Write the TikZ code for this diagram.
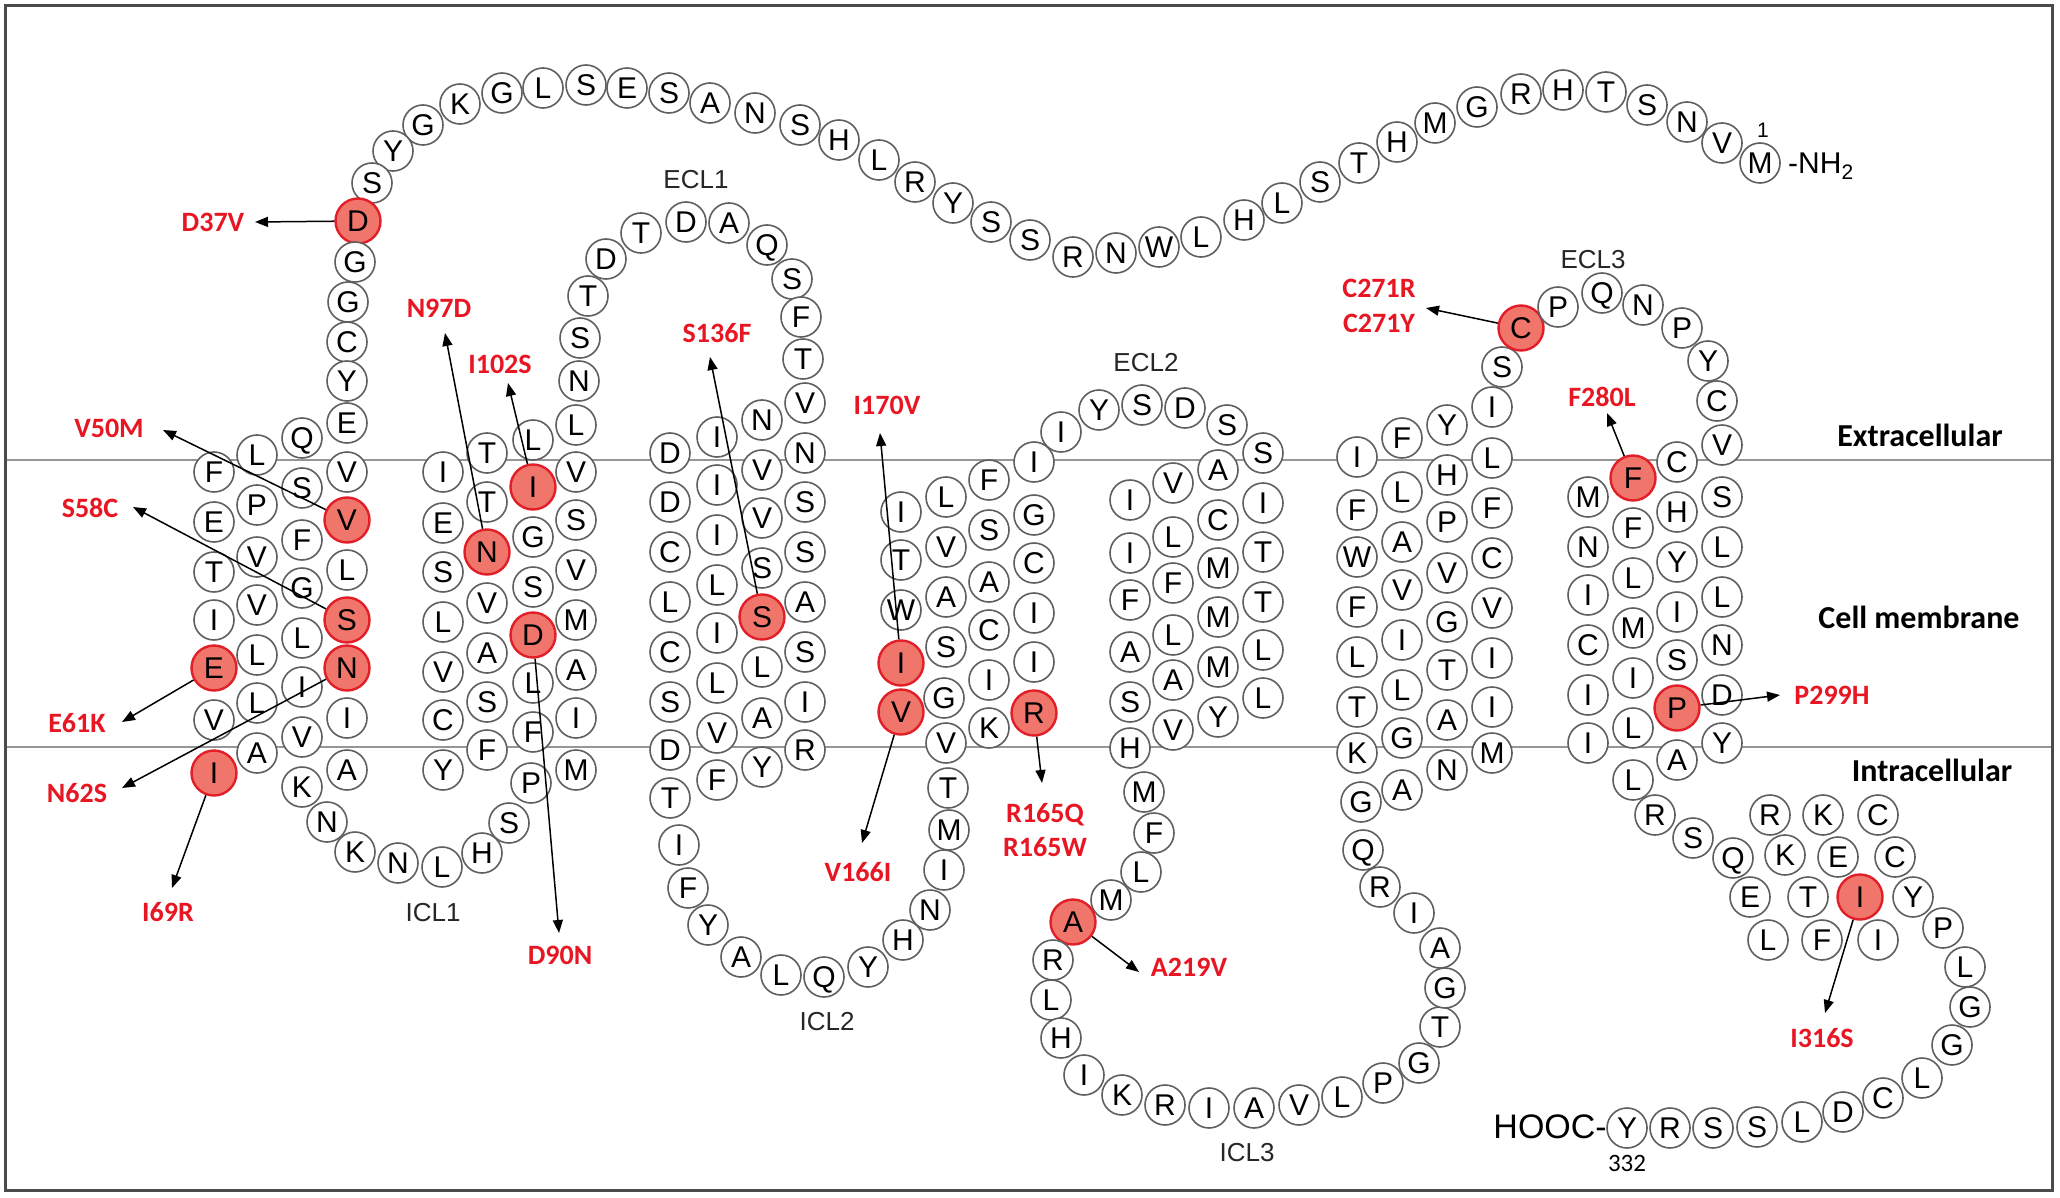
\documentclass[tikz,border=0pt]{standalone}
\usepackage{fontspec}
\setmainfont{Liberation Sans}
\newfontfamily\carl{Carlito}
\usetikzlibrary{arrows.meta}
\definecolor{circ}{RGB}{95,95,95}
\definecolor{mutfill}{RGB}{240,118,108}
\definecolor{mutdraw}{RGB}{226,30,40}
\definecolor{mutred}{RGB}{232,22,34}
\definecolor{memb}{RGB}{150,150,150}
\definecolor{framegray}{RGB}{75,75,75}
\newcommand{\Res}[4]{\node[res] (r#1) at (#2,#3) {#4};}
\newcommand{\MRes}[4]{\node[resmut] (r#1) at (#2,#3) {#4};}
\begin{document}
\begin{tikzpicture}[x=1pt,y=-1pt,
 res/.style={circle,draw=circ,line width=1.6pt,fill=white,minimum size=40pt,inner sep=0pt,
   font=\fontsize{30}{30}\selectfont,text height=21.5pt,text depth=0pt},
 resmut/.style={res,fill=mutfill,draw=mutdraw,line width=2.4pt,minimum size=45pt},
 mutlab/.style={font=\carl\bfseries\fontsize{28}{30}\selectfont,text=mutred,inner sep=0pt},
 mutarrow/.style={line width=1.5pt,-{Triangle[length=13pt,width=10pt]}},
 looplab/.style={font=\fontsize{26}{26}\selectfont,text=black!85,inner sep=0pt},
 regionlab/.style={font=\carl\bfseries\fontsize{32}{32}\selectfont,inner sep=0pt}]
\useasboundingbox (0,0) rectangle (2060,1198);
\fill[white] (0,0) rectangle (2060,1198);
% membrane lines and frame
\draw[memb,line width=2.5pt] (5,460) -- (2052,460);
\draw[memb,line width=2.5pt] (5,747) -- (2052,747);
\draw[framegray,line width=3pt] (5,6) rectangle (2052,1190);
% N-terminus
\Res{1}{1760}{163}{M}
\Res{2}{1722}{143}{V}
\Res{3}{1687}{122}{N}
\Res{4}{1647}{105}{S}
\Res{5}{1606}{92}{T}
\Res{6}{1563}{90}{H}
\Res{7}{1521}{94}{R}
\Res{8}{1477}{107}{G}
\Res{9}{1435}{123}{M}
\Res{10}{1397}{142}{H}
\Res{11}{1359}{163}{T}
\Res{12}{1320}{182}{S}
\Res{13}{1282}{203}{L}
\Res{14}{1244}{220}{H}
\Res{15}{1201}{237}{L}
\Res{16}{1159}{247}{W}
\Res{17}{1116}{253}{N}
\Res{18}{1073}{257}{R}
\Res{19}{1030}{240}{S}
\Res{20}{991}{222}{S}
\Res{21}{953}{203}{Y}
\Res{22}{915}{182}{R}
\Res{23}{879}{160}{L}
\Res{24}{839}{140}{H}
\Res{25}{800}{125}{S}
\Res{26}{755}{113}{N}
\Res{27}{710}{103}{A}
\Res{28}{669}{93}{S}
\Res{29}{627}{88}{E}
\Res{30}{586}{85}{S}
\Res{31}{543}{88}{L}
\Res{32}{502}{93}{G}
\Res{33}{460}{104}{K}
\Res{34}{423}{125}{G}
\Res{35}{393}{151}{Y}
\Res{36}{372}{183}{S}
\MRes{37}{358}{221}{D}
% TM1
\Res{38}{355}{262}{G}
\Res{39}{348}{302}{G}
\Res{40}{347}{342}{C}
\Res{41}{347}{381}{Y}
\Res{42}{347}{423}{E}
\Res{43}{302}{438}{Q}
\Res{44}{257}{455}{L}
\Res{45}{214}{472}{F}
\Res{46}{347}{472}{V}
\Res{47}{302}{488}{S}
\Res{48}{257}{505}{P}
\Res{49}{214}{522}{E}
\MRes{50}{347}{520}{V}
\Res{51}{302}{540}{F}
\Res{52}{257}{557}{V}
\Res{53}{214}{572}{T}
\Res{54}{347}{570}{L}
\Res{55}{302}{588}{G}
\Res{56}{257}{605}{V}
\Res{57}{214}{620}{I}
\MRes{58}{347}{620}{S}
\Res{59}{302}{638}{L}
\Res{60}{257}{655}{L}
\MRes{61}{214}{668}{E}
\MRes{62}{347}{668}{N}
\Res{63}{302}{687}{I}
\Res{64}{257}{703}{L}
\Res{65}{214}{720}{V}
\Res{66}{347}{718}{I}
\Res{67}{302}{737}{V}
\Res{68}{257}{753}{A}
\MRes{69}{214}{773}{I}
\Res{70}{347}{770}{A}
\Res{71}{302}{787}{K}
% ICL1
\Res{72}{327}{822}{N}
\Res{73}{355}{852}{K}
\Res{74}{398}{863}{N}
\Res{75}{442}{867}{L}
\Res{76}{482}{853}{H}
\Res{77}{509}{823}{S}
\Res{78}{531}{783}{P}
% TM2
\Res{79}{576}{770}{M}
\Res{80}{443}{770}{Y}
\Res{81}{487}{750}{F}
\Res{82}{533}{732}{F}
\Res{83}{576}{718}{I}
\Res{84}{443}{720}{C}
\Res{85}{487}{702}{S}
\Res{86}{533}{683}{L}
\Res{87}{576}{670}{A}
\Res{88}{443}{672}{V}
\Res{89}{487}{653}{A}
\MRes{90}{533}{635}{D}
\Res{91}{576}{620}{M}
\Res{92}{443}{622}{L}
\Res{93}{487}{603}{V}
\Res{94}{533}{587}{S}
\Res{95}{576}{570}{V}
\Res{96}{443}{572}{S}
\MRes{97}{487}{552}{N}
\Res{98}{533}{537}{G}
\Res{99}{576}{520}{S}
\Res{100}{443}{523}{E}
\Res{101}{487}{502}{T}
\MRes{102}{533}{487}{I}
\Res{103}{576}{472}{V}
\Res{104}{443}{472}{I}
\Res{105}{487}{453}{T}
\Res{106}{533}{440}{L}
\Res{107}{576}{425}{L}
% ECL1
\Res{108}{579}{381}{N}
\Res{109}{580}{338}{S}
\Res{110}{588}{296}{T}
\Res{111}{606}{259}{D}
\Res{112}{641}{233}{T}
\Res{113}{686}{222}{D}
\Res{114}{729}{223}{A}
\Res{115}{767}{245}{Q}
\Res{116}{792}{279}{S}
\Res{117}{801}{317}{F}
\Res{118}{803}{359}{T}
% TM3
\Res{119}{805}{403}{V}
\Res{120}{762}{420}{N}
\Res{121}{717}{437}{I}
\Res{122}{670}{453}{D}
\Res{123}{805}{453}{N}
\Res{124}{762}{470}{V}
\Res{125}{717}{485}{I}
\Res{126}{670}{502}{D}
\Res{127}{805}{502}{S}
\Res{128}{762}{518}{V}
\Res{129}{717}{535}{I}
\Res{130}{670}{552}{C}
\Res{131}{805}{552}{S}
\Res{132}{762}{568}{S}
\Res{133}{717}{585}{L}
\Res{134}{670}{602}{L}
\Res{135}{805}{602}{A}
\MRes{136}{762}{617}{S}
\Res{137}{717}{633}{I}
\Res{138}{670}{652}{C}
\Res{139}{805}{652}{S}
\Res{140}{762}{667}{L}
\Res{141}{717}{683}{L}
\Res{142}{670}{702}{S}
\Res{143}{805}{702}{I}
\Res{144}{762}{718}{A}
\Res{145}{717}{733}{V}
\Res{146}{670}{750}{D}
\Res{147}{805}{750}{R}
\Res{148}{762}{767}{Y}
\Res{149}{717}{780}{F}
\Res{150}{670}{798}{T}
% ICL2
\Res{151}{679}{845}{I}
\Res{152}{688}{888}{F}
\Res{153}{708}{925}{Y}
\Res{154}{741}{957}{A}
\Res{155}{781}{975}{L}
\Res{156}{824}{977}{Q}
\Res{157}{868}{967}{Y}
\Res{158}{903}{940}{H}
\Res{159}{930}{910}{N}
\Res{160}{944}{870}{I}
\Res{161}{949}{830}{M}
\Res{162}{948}{788}{T}
% TM4
\Res{163}{946}{743}{V}
\Res{164}{989}{728}{K}
\MRes{165}{1034}{713}{R}
\MRes{166}{901}{712}{V}
\Res{167}{944}{698}{G}
\Res{168}{989}{680}{I}
\Res{169}{1034}{662}{I}
\MRes{170}{901}{663}{I}
\Res{171}{946}{647}{S}
\Res{172}{989}{630}{C}
\Res{173}{1034}{613}{I}
\Res{174}{901}{610}{W}
\Res{175}{946}{597}{A}
\Res{176}{989}{582}{A}
\Res{177}{1034}{563}{C}
\Res{178}{901}{560}{T}
\Res{179}{946}{547}{V}
\Res{180}{989}{530}{S}
\Res{181}{1034}{515}{G}
\Res{182}{901}{512}{I}
\Res{183}{946}{497}{L}
\Res{184}{989}{480}{F}
\Res{185}{1034}{462}{I}
% ECL2
\Res{186}{1061}{432}{I}
\Res{187}{1099}{410}{Y}
\Res{188}{1142}{405}{S}
\Res{189}{1185}{408}{D}
\Res{190}{1227}{425}{S}
% TM5
\Res{191}{1263}{453}{S}
\Res{192}{1218}{470}{A}
\Res{193}{1173}{483}{V}
\Res{194}{1130}{500}{I}
\Res{195}{1263}{503}{I}
\Res{196}{1218}{520}{C}
\Res{197}{1173}{537}{L}
\Res{198}{1130}{553}{I}
\Res{199}{1263}{552}{T}
\Res{200}{1218}{568}{M}
\Res{201}{1173}{583}{F}
\Res{202}{1130}{600}{F}
\Res{203}{1263}{602}{T}
\Res{204}{1218}{617}{M}
\Res{205}{1173}{635}{L}
\Res{206}{1130}{652}{A}
\Res{207}{1263}{650}{L}
\Res{208}{1218}{667}{M}
\Res{209}{1173}{680}{A}
\Res{210}{1130}{702}{S}
\Res{211}{1263}{698}{L}
\Res{212}{1218}{717}{Y}
\Res{213}{1173}{730}{V}
\Res{214}{1130}{748}{H}
% ICL3
\Res{215}{1144}{792}{M}
\Res{216}{1154}{833}{F}
\Res{217}{1141}{872}{L}
\Res{218}{1111}{900}{M}
\MRes{219}{1073}{922}{A}
\Res{220}{1053}{960}{R}
\Res{221}{1051}{1000}{L}
\Res{222}{1061}{1038}{H}
\Res{223}{1084}{1075}{I}
\Res{224}{1122}{1095}{K}
\Res{225}{1165}{1105}{R}
\Res{226}{1209}{1108}{I}
\Res{227}{1254}{1108}{A}
\Res{228}{1299}{1105}{V}
\Res{229}{1342}{1097}{L}
\Res{230}{1383}{1083}{P}
\Res{231}{1419}{1063}{G}
\Res{232}{1440}{1027}{T}
\Res{233}{1445}{988}{G}
\Res{234}{1440}{948}{A}
\Res{235}{1414}{913}{I}
\Res{236}{1380}{887}{R}
\Res{237}{1363}{850}{Q}
\Res{238}{1361}{802}{G}
% TM6
\Res{239}{1402}{790}{A}
\Res{240}{1447}{770}{N}
\Res{241}{1492}{753}{M}
\Res{242}{1357}{753}{K}
\Res{243}{1402}{738}{G}
\Res{244}{1447}{720}{A}
\Res{245}{1492}{707}{I}
\Res{246}{1357}{707}{T}
\Res{247}{1402}{690}{L}
\Res{248}{1447}{670}{T}
\Res{249}{1492}{658}{I}
\Res{250}{1357}{657}{L}
\Res{251}{1402}{640}{I}
\Res{252}{1447}{622}{G}
\Res{253}{1492}{608}{V}
\Res{254}{1357}{607}{F}
\Res{255}{1402}{590}{V}
\Res{256}{1447}{573}{V}
\Res{257}{1492}{558}{C}
\Res{258}{1357}{557}{W}
\Res{259}{1402}{542}{A}
\Res{260}{1447}{522}{P}
\Res{261}{1492}{508}{F}
\Res{262}{1357}{510}{F}
\Res{263}{1402}{492}{L}
\Res{264}{1447}{475}{H}
\Res{265}{1492}{458}{L}
\Res{266}{1357}{457}{I}
\Res{267}{1402}{438}{F}
\Res{268}{1447}{425}{Y}
\Res{269}{1492}{407}{I}
% ECL3
\Res{270}{1502}{367}{S}
\MRes{271}{1521}{328}{C}
\Res{272}{1558}{307}{P}
\Res{273}{1602}{293}{Q}
\Res{274}{1643}{305}{N}
\Res{275}{1682}{328}{P}
\Res{276}{1708}{361}{Y}
\Res{277}{1717}{401}{C}
% TM7
\Res{278}{1722}{445}{V}
\Res{279}{1677}{462}{C}
\MRes{280}{1633}{478}{F}
\Res{281}{1588}{497}{M}
\Res{282}{1722}{497}{S}
\Res{283}{1677}{512}{H}
\Res{284}{1633}{528}{F}
\Res{285}{1588}{547}{N}
\Res{286}{1722}{547}{L}
\Res{287}{1677}{562}{Y}
\Res{288}{1633}{578}{L}
\Res{289}{1588}{595}{I}
\Res{290}{1722}{597}{L}
\Res{291}{1677}{612}{I}
\Res{292}{1633}{628}{M}
\Res{293}{1588}{645}{C}
\Res{294}{1722}{645}{N}
\Res{295}{1677}{660}{S}
\Res{296}{1633}{678}{I}
\Res{297}{1588}{695}{I}
\Res{298}{1722}{695}{D}
\MRes{299}{1677}{708}{P}
\Res{300}{1633}{728}{L}
\Res{301}{1588}{743}{I}
\Res{302}{1722}{743}{Y}
\Res{303}{1677}{760}{A}
\Res{304}{1633}{780}{L}
% C-terminus
\Res{305}{1655}{815}{R}
\Res{306}{1693}{838}{S}
\Res{307}{1733}{858}{Q}
\Res{308}{1750}{897}{E}
\Res{309}{1768}{940}{L}
\Res{310}{1770}{815}{R}
\Res{311}{1785}{855}{K}
\Res{312}{1808}{897}{T}
\Res{313}{1822}{940}{F}
\Res{314}{1823}{815}{K}
\Res{315}{1838}{857}{E}
\MRes{316}{1860}{897}{I}
\Res{317}{1878}{940}{I}
\Res{318}{1878}{815}{C}
\Res{319}{1895}{857}{C}
\Res{320}{1913}{897}{Y}
\Res{321}{1943}{928}{P}
\Res{322}{1965}{967}{L}
\Res{323}{1970}{1007}{G}
\Res{324}{1952}{1045}{G}
\Res{325}{1922}{1078}{L}
\Res{326}{1883}{1098}{C}
\Res{327}{1843}{1112}{D}
\Res{328}{1802}{1122}{L}
\Res{329}{1757}{1127}{S}
\Res{330}{1713}{1128}{S}
\Res{331}{1670}{1128}{R}
\Res{332}{1627}{1128}{Y}
% termini labels
\node[font=\fontsize{21}{21}\selectfont,inner sep=0pt] (n1) at (1763,130) {1};
\node[font=\fontsize{30}{30}\selectfont,anchor=west,inner sep=0pt] (nh2) at (1788,166) {-NH\textsubscript{2}};
\node[font=\fontsize{34}{34}\selectfont,anchor=east,inner sep=0pt] (hooc) at (1607,1127) {HOOC-};
\node[font=\carl\fontsize{25}{25}\selectfont,inner sep=0pt] (n332) at (1627,1163) {332};
% loop labels
\node[looplab] (ecl1) at (696,180) {ECL1};
\node[looplab] (ecl2) at (1146,363) {ECL2};
\node[looplab] (ecl3) at (1593,260) {ECL3};
\node[looplab] (icl1) at (433,913) {ICL1};
\node[looplab] (icl2) at (827,1022) {ICL2};
\node[looplab] (icl3) at (1247,1153) {ICL3};
% region labels
\node[regionlab] (extra) at (1920,435) {Extracellular};
\node[regionlab] (cellm) at (1919,617) {Cell membrane};
\node[regionlab] (intra) at (1932,770) {Intracellular};
% mutation labels
\node[mutlab] (m37) at (213,222) {D37V};
\node[mutlab] (m50) at (109,428) {V50M};
\node[mutlab] (m58) at (90,508) {S58C};
\node[mutlab] (m61) at (77,723) {E61K};
\node[mutlab] (m62) at (77,793) {N62S};
\node[mutlab] (m69) at (168,912) {I69R};
\node[mutlab] (m90) at (560,955) {D90N};
\node[mutlab] (m97) at (439,308) {N97D};
\node[mutlab] (m102) at (500,364) {I102S};
\node[mutlab] (m136) at (717,333) {S136F};
\node[mutlab] (m165a) at (1045,815) {R165Q};
\node[mutlab] (m165b) at (1045,847) {R165W};
\node[mutlab] (m166) at (858,872) {V166I};
\node[mutlab] (m170) at (887,405) {I170V};
\node[mutlab] (m219) at (1189,967) {A219V};
\node[mutlab] (m271a) at (1379,288) {C271R};
\node[mutlab] (m271b) at (1379,323) {C271Y};
\node[mutlab] (m280) at (1602,397) {F280L};
\node[mutlab] (m299) at (1832,695) {P299H};
\node[mutlab] (m316) at (1822,1038) {I316S};
% arrow tips
\coordinate (t37) at (255,222);
\coordinate (t50) at (163,430);
\coordinate (t58) at (133,507);
\coordinate (t61) at (122,722);
\coordinate (t62) at (122,788);
\coordinate (t69) at (172,888);
\coordinate (t90) at (559,933);
\coordinate (t97) at (445,333);
\coordinate (t102) at (508,383);
\coordinate (t136) at (710,357);
\coordinate (t165) at (1042,783);
\coordinate (t166) at (862,843);
\coordinate (t170) at (880,433);
\coordinate (t219) at (1139,972);
\coordinate (t271) at (1426,308);
\coordinate (t280) at (1607,413);
\coordinate (t299) at (1780,695);
\coordinate (t316) at (1825,1013);
% arrows
\foreach \k in {37,50,58,61,62,69,90,97,102,136,165,166,170,219,271,280,299,316}{
  \draw[mutarrow] (r\k) -- (t\k);
}
\end{tikzpicture}
\end{document}
